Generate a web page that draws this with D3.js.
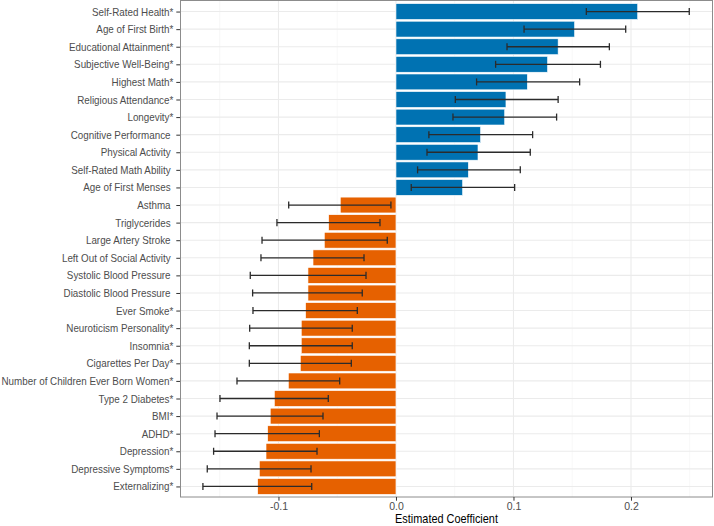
<!DOCTYPE html>
<html>
<head>
<meta charset="utf-8">
<script src="https://cdn.jsdelivr.net/npm/d3@7"></script>
<style>
  html, body { margin: 0; padding: 0; background: #fff; }
  svg { display: block; font-family: "Liberation Sans", Arial, sans-serif; }
</style>
</head>
<body>
<svg id="chart" width="714" height="526"></svg>
<script>
const categories = [
  "Self-Rated Health*", "Age of First Birth*", "Educational Attainment*",
  "Subjective Well-Being*", "Highest Math*", "Religious Attendance*",
  "Longevity*", "Cognitive Performance ", "Physical Activity ",
  "Self-Rated Math Ability ", "Age of First Menses ", "Asthma ",
  "Triglycerides ", "Large Artery Stroke ", "Left Out of Social Activity ",
  "Systolic Blood Pressure ", "Diastolic Blood Pressure ", "Ever Smoke*",
  "Neuroticism Personality*", "Insomnia*", "Cigarettes Per Day*",
  "Number of Children Ever Born Women*", "Type 2 Diabetes*", "BMI*",
  "ADHD*", "Depression*", "Depressive Symptoms*", "Externalizing*"
];
const estimates = [
  0.2057, 0.1520, 0.1380, 0.1290, 0.1118, 0.0936, 0.0925, 0.0720, 0.0698,
  0.0616, 0.0567, -0.0474, -0.0573, -0.0610, -0.0706, -0.0749, -0.0749,
  -0.0769, -0.0806, -0.0806, -0.0814, -0.0916, -0.1035, -0.1070, -0.1092,
  -0.1106, -0.1163, -0.1177
];
const lowerCI = [
  0.1620, 0.1090, 0.0945, 0.0848, 0.0686, 0.0505, 0.0485, 0.0280, 0.0264,
  0.0184, 0.0130, -0.0913, -0.1013, -0.1140, -0.1149, -0.1240, -0.1220,
  -0.1217, -0.1245, -0.1248, -0.1248, -0.1353, -0.1498, -0.1523, -0.1540,
  -0.1552, -0.1606, -0.1643
];
const upperCI = [
  0.2496, 0.1955, 0.1816, 0.1740, 0.1563, 0.1380, 0.1367, 0.1163, 0.1143,
  0.1058, 0.1010, -0.0043, -0.0136, -0.0074, -0.0272, -0.0255, -0.0287,
  -0.0329, -0.0372, -0.0372, -0.0380, -0.0479, -0.0576, -0.0621, -0.0652,
  -0.0672, -0.0723, -0.0717
];
const xTicks = [-0.1, 0, 0.1, 0.2];
const xTickLabels = ["-0.1", "0.0", "0.1", "0.2"];
const xMinorTicks = [-0.15, -0.05, 0.05, 0.15, 0.25];
const xDomain = [-0.1838, 0.2698];
const axisTitle = "Estimated Coefficient";

const data = categories.map((c, i) => ({
  cat: c, est: estimates[i], lo: lowerCI[i], hi: upperCI[i]
}));

const W = 714, H = 526;
const margin = { left: 180, right: 1, top: 1, bottom: 29 };
const pL = margin.left, pR = W - margin.right, pT = margin.top, pB = H - margin.bottom;

const svg = d3.select("#chart");

const x = d3.scaleLinear().domain(xDomain).range([pL, pR]);
const y = d3.scalePoint().domain(categories).range([pT, pB]).padding(0.6);
const step = y.step();
const barH = step * 0.9;
const capH = step * 0.4;

const g = svg.append("g");

// minor grid
g.selectAll("line.minor").data(xMinorTicks).join("line")
  .attr("x1", d => x(d)).attr("x2", d => x(d))
  .attr("y1", pT).attr("y2", pB)
  .attr("stroke", "#F2F2F2").attr("stroke-width", 0.6);

// major grid vertical
g.selectAll("line.majx").data(xTicks).join("line")
  .attr("x1", d => x(d)).attr("x2", d => x(d))
  .attr("y1", pT).attr("y2", pB)
  .attr("stroke", "#EBEBEB").attr("stroke-width", 1.1);

// major grid horizontal
g.selectAll("line.majy").data(categories).join("line")
  .attr("x1", pL).attr("x2", pR)
  .attr("y1", d => y(d)).attr("y2", d => y(d))
  .attr("stroke", "#EBEBEB").attr("stroke-width", 1.1);

// bars
g.selectAll("rect.bar").data(data).join("rect")
  .attr("x", d => Math.min(x(0), x(d.est)))
  .attr("width", d => Math.abs(x(d.est) - x(0)))
  .attr("y", d => y(d.cat) - barH / 2)
  .attr("height", barH)
  .attr("fill", d => d.est >= 0 ? "#0072B2" : "#E66100")
  .attr("stroke", "#ffffff").attr("stroke-width", 0.6);

// error bars
const eb = g.selectAll("g.eb").data(data).join("g")
  .attr("stroke", "#2b2b2b").attr("stroke-width", 1.3);
eb.append("line")
  .attr("x1", d => x(d.lo)).attr("x2", d => x(d.hi))
  .attr("y1", d => y(d.cat)).attr("y2", d => y(d.cat));
eb.append("line")
  .attr("x1", d => x(d.lo)).attr("x2", d => x(d.lo))
  .attr("y1", d => y(d.cat) - capH / 2).attr("y2", d => y(d.cat) + capH / 2);
eb.append("line")
  .attr("x1", d => x(d.hi)).attr("x2", d => x(d.hi))
  .attr("y1", d => y(d.cat) - capH / 2).attr("y2", d => y(d.cat) + capH / 2);

// panel border
svg.append("rect")
  .attr("x", pL + 0.5).attr("y", pT - 0.5)
  .attr("width", pR - pL - 1).attr("height", pB - pT + 0.5)
  .attr("fill", "none").attr("stroke", "#8C8C8C").attr("stroke-width", 1);

// y axis
const yAxis = d3.axisLeft(y).tickSize(3.7).tickPadding(3);
const yg = svg.append("g").attr("transform", `translate(${pL},0)`).call(yAxis);
yg.select(".domain").remove();
yg.selectAll(".tick line").attr("stroke", "#333333");
const yTexts = yg.selectAll(".tick text")
  .attr("fill", "#4D4D4D").attr("font-size", "11px")
  .style("white-space", "pre")
  .attr("font-family", "'Liberation Sans', Arial, sans-serif");
// condense labels horizontally so the longest one fits the left margin
let maxW = 0;
yTexts.each(function() { maxW = Math.max(maxW, this.getComputedTextLength()); });
const sx = Math.min(1, 172 / maxW);
yTexts.each(function() {
  const tx = +d3.select(this).attr("x");
  d3.select(this).attr("transform", `translate(${tx},0) scale(${sx},1) translate(${-tx},0)`);
});

// x axis
const xAxis = d3.axisBottom(x).tickValues(xTicks)
  .tickFormat((d, i) => xTickLabels[i]).tickSize(3.7).tickPadding(2);
const xg = svg.append("g").attr("transform", `translate(0,${pB})`).call(xAxis);
xg.select(".domain").remove();
xg.selectAll(".tick line").attr("stroke", "#333333");
xg.selectAll(".tick text")
  .attr("fill", "#4D4D4D").attr("font-size", "10.5px")
  .attr("font-family", "'Liberation Sans', Arial, sans-serif");

// axis title
const title = svg.append("text")
  .attr("x", (pL + pR) / 2).attr("y", H - 2.5)
  .attr("text-anchor", "middle")
  .attr("font-size", "12.5px").attr("fill", "#000")
  .text(axisTitle);
const tw = title.node().getComputedTextLength();
const ts = Math.min(1, 103 / tw);
const tcx = (pL + pR) / 2;
title.attr("transform", `translate(${tcx},0) scale(${ts},1) translate(${-tcx},0)`);
</script>
</body>
</html>
